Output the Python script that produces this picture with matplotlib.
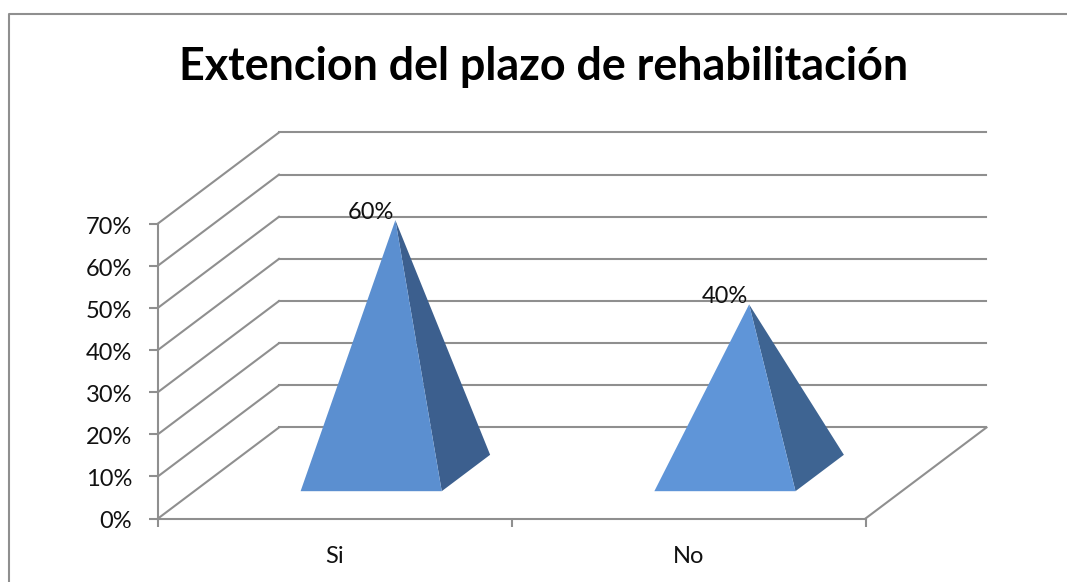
import matplotlib.pyplot as plt
from matplotlib.lines import Line2D
from matplotlib.patches import Polygon
from matplotlib.transforms import ScaledTranslation

plt.rcParams['font.family'] = ['Lato', 'DejaVu Sans']

# Read data
categories = ['Si', 'No']
values = [60, 40]
value_labels = ['60%', '40%']
y_ticks = [0, 10, 20, 30, 40, 50, 60, 70]
y_labels = ['0%', '10%', '20%', '30%', '40%', '50%', '60%', '70%']

grid_color = '#8f8f8f'
front_colors = ['#5b8fd0', '#5f95d8']
side_colors = ['#3c5f8e', '#3e6492']

# depth of the fake 3d box, in data units
depth_x = 0.342
depth_y = 21.6
half_width = 0.1995

w, h = 1067, 582
fig = plt.figure(figsize=(w/100, h/100), dpi=100)
ax = fig.add_axes([158/w, (h-518.5)/h, 707.5/w, 295/h])
ax.set_xlim([0, 2])
ax.set_ylim([0, 70])
ax.patch.set_alpha(0)
for s in ax.spines.values():
    s.set_visible(False)


def project(x, d, val):
    return x + d*depth_x, val + d*depth_y


# walls and floor
for t in y_ticks:
    ax.plot([0, depth_x], [t, t + depth_y], color=grid_color, lw=1.5, clip_on=False, zorder=1)
    ax.plot([depth_x, 2 + depth_x], [t + depth_y, t + depth_y], color=grid_color, lw=1.5, clip_on=False, zorder=1)
ax.plot([0, 0], [0, 70], color=grid_color, lw=1.5, clip_on=False, zorder=1)
ax.plot([0, 2], [0, 0], color=grid_color, lw=1.5, clip_on=False, zorder=1)
ax.plot([2, 2 + depth_x], [0, depth_y], color=grid_color, lw=1.5, clip_on=False, zorder=1)

# pyramids
for i in range(len(categories)):
    c = i + 0.5
    v = values[i]
    apex = project(c, 0.5, v)
    front_l = project(c - half_width, 0.3, 0)
    front_r = project(c + half_width, 0.3, 0)
    back_r = project(c + half_width, 0.7, 0)
    ax.add_patch(Polygon([apex, front_r, back_r], closed=True, fc=side_colors[i], ec='none', zorder=3, clip_on=False))
    ax.add_patch(Polygon([apex, front_l, front_r], closed=True, fc=front_colors[i], ec='none', zorder=4, clip_on=False))
    ax.annotate(value_labels[i], apex, xytext=(-17.5, 1), textcoords='offset points', ha='center', va='baseline',
                fontsize=17, color='#111111', zorder=5, annotation_clip=False)

ax.set_yticks(y_ticks)
ax.set_yticklabels(y_labels, fontsize=17, color='#111111')
ax.tick_params(axis='y', length=6.5, width=1.5, color=grid_color, pad=12)
# labels sit a little under their ticks
shift = ScaledTranslation(0, -1.5/100, fig.dpi_scale_trans)
for lab in ax.get_yticklabels():
    lab.set_transform(lab.get_transform() + shift)
ax.set_xticks([0, 1, 2])
ax.set_xticklabels([])
ax.tick_params(axis='x', which='major', length=6, width=1.5, color=grid_color)
ax.set_xticks([0.5, 1.5], minor=True)
ax.set_xticklabels(categories, minor=True, fontsize=17, color='#111111')
ax.tick_params(axis='x', which='minor', length=0, pad=20)

fig.text(544/w, 1 - 80/h, 'Extencion del plazo de rehabilitación', ha='center', va='baseline',
         fontsize=32.3, fontweight='bold', color='black')

# chart border, runs off the right and bottom of the picture
bx = [8.5/w, 8.5/w, 1]
by = [0, 1 - 13.5/h, 1 - 13.5/h]
fig.add_artist(Line2D(bx, by, color=grid_color, lw=1.5))

fig.savefig('out.png', dpi=100, facecolor='white')
